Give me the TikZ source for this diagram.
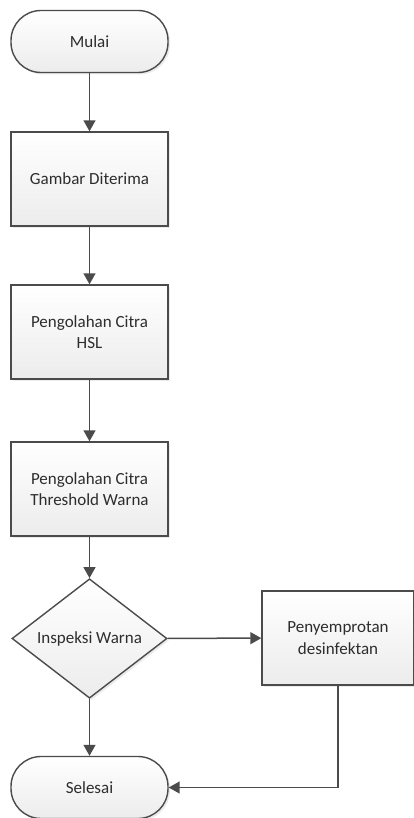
\documentclass[tikz,border=0pt]{standalone}
\usepackage{fontspec}
\setmainfont{Carlito}
\usetikzlibrary{arrows.meta,shapes.geometric,shadows}
\definecolor{edgecol}{RGB}{75,75,75}
\definecolor{txtcol}{RGB}{45,45,45}
\definecolor{botfill}{RGB}{236,236,236}
\definecolor{shadowcol}{RGB}{215,215,215}
\tikzset{
  x=1pt,y=1pt,
  base/.style={draw=edgecol, line width=1.4pt, top color=white, bottom color=botfill,
    text=txtcol, font=\fontsize{17}{21.5}\selectfont, align=center, inner sep=0pt,
    drop shadow={shadow xshift=2pt, shadow yshift=-2pt, fill=shadowcol, draw=none}},
  terminal/.style={base, rectangle, rounded corners=30pt, minimum width=157pt, minimum height=62pt},
  procbox/.style={base, rectangle, minimum width=157pt, minimum height=94pt},
  decision/.style={base, diamond, minimum width=155pt, minimum height=93pt},
  flow/.style={draw=edgecol, line width=1.5pt, -{Triangle[width=12pt,length=11pt]}}
}
\begin{document}
\begin{tikzpicture}
\useasboundingbox (0,0) rectangle (414,-818);
\node[terminal] (mulai) at (89.5,-41.5) {Mulai};
\node[procbox] (gambar) at (89.5,-179) {Gambar Diterima};
\node[procbox] (hsl) at (89.5,-332) {Pengolahan Citra\\HSL};
\node[procbox] (thr) at (89.5,-489) {Pengolahan Citra\\Threshold Warna};
\node[decision] (insp) at (89.5,-638.5) {Inspeksi Warna};
\node[procbox, minimum width=152pt, minimum height=94pt] (semprot) at (338,-638) {Penyemprotan\\desinfektan};
\node[terminal] (selesai) at (89.5,-787.5) {Selesai};
\draw[flow] (mulai) -- (gambar);
\draw[flow] (gambar) -- (hsl);
\draw[flow] (hsl) -- (thr);
\draw[flow] (thr) -- (insp);
\draw[flow] (insp) -- (semprot);
\draw[flow] (insp) -- (selesai);
\draw[flow] (semprot.south) |- (selesai.east);
\end{tikzpicture}
\end{document}
